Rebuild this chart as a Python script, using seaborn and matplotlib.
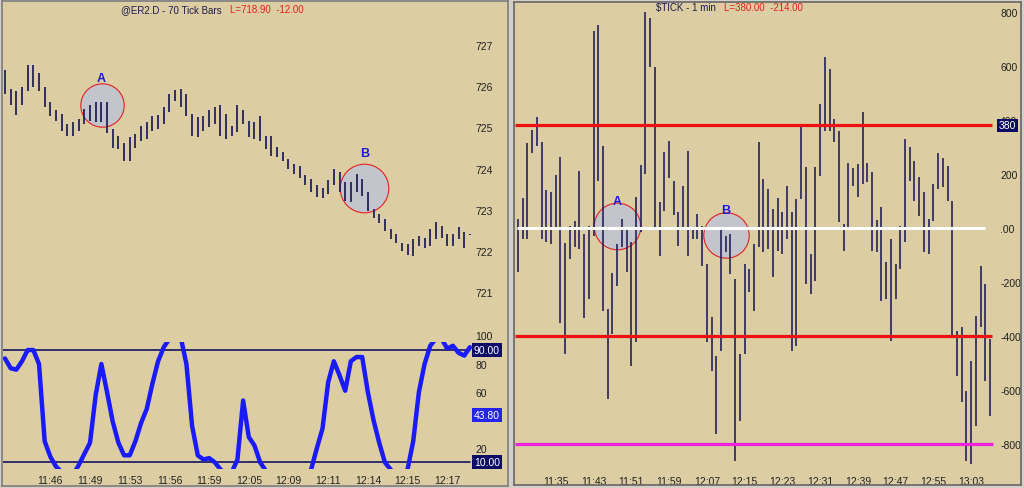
import numpy as np
import pandas as pd
import matplotlib
matplotlib.use("Agg")
import matplotlib.pyplot as plt
import seaborn as sns

# ---- @ER2.D 70 tick bars (high / low) ----
er_high = [726.38, 725.93, 725.89, 725.99, 726.50, 726.50, 726.32, 725.97, 725.61, 725.41,
           725.33, 725.08, 725.12, 725.20, 725.45, 725.53, 725.61, 725.61, 725.61, 724.95,
           724.80, 724.62, 724.76, 724.84, 725.04, 725.12, 725.28, 725.30, 725.49, 725.81,
           725.91, 725.93, 725.81, 725.33, 725.25, 725.28, 725.41, 725.49, 725.53, 725.33,
           725.04, 725.53, 725.41, 725.16, 725.12, 725.28, 724.80, 724.80, 724.52, 724.39,
           724.23, 724.11, 724.07, 723.85, 723.75, 723.59, 723.53, 723.71, 723.99, 723.91,
           723.67, 723.67, 723.87, 723.75, 723.42, 723.02, 722.89, 722.77, 722.53, 722.40,
           722.20, 722.16, 722.28, 722.36, 722.32, 722.53, 722.70, 722.61, 722.40, 722.40,
           722.57, 722.45, 722.42]
er_low = [725.81, 725.53, 725.29, 725.53, 725.89, 725.99, 725.89, 725.49, 725.28, 725.16,
          724.92, 724.80, 724.78, 724.92, 725.08, 725.16, 725.12, 725.12, 724.85, 724.49,
          724.47, 724.19, 724.19, 724.51, 724.68, 724.72, 724.92, 724.95, 725.08, 725.37,
          725.65, 725.49, 725.28, 724.80, 724.76, 724.92, 725.00, 725.08, 724.80, 724.72,
          724.80, 724.88, 725.08, 724.76, 724.72, 724.68, 724.47, 724.31, 724.27, 724.19,
          723.99, 723.87, 723.77, 723.60, 723.42, 723.30, 723.28, 723.38, 723.59, 723.42,
          723.22, 723.18, 723.42, 723.34, 722.98, 722.81, 722.69, 722.49, 722.28, 722.20,
          722.00, 721.91, 721.87, 722.12, 722.08, 722.12, 722.28, 722.32, 722.12, 722.12,
          722.28, 722.08, 722.38]
er_osc = [84, 77, 76, 82, 90, 90, 80, 25, 14, 7,
          3, 0, 1, 8, 16, 24, 58, 80, 60, 39,
          24, 15, 15, 25, 38, 48, 66, 82, 92, 98,
          100, 99, 80, 36, 15, 12, 13, 10, 5, 1,
          3, 12, 54, 28, 22, 10, 4, 0, 0, 0,
          0, 0, 0, 0, 5, 20, 34, 67, 82, 72,
          61, 82, 85, 85, 60, 40, 24, 10, 5, 0,
          0, 5, 25, 60, 80, 93, 98, 98, 91, 93,
          88, 86, 92]
er_time_labels = ["11:46", "11:49", "11:53", "11:56", "11:59", "12:05",
                  "12:09", "12:11", "12:14", "12:15", "12:17"]
er_time_bars = [8, 15, 22, 29, 36, 43, 50, 57, 64, 71, 78]
er_price_ticks = [721, 722, 723, 724, 725, 726, 727]
osc_ticks = [80, 60, 20]
osc_levels = [90, 10]

# ---- $TICK 1 min bars (high / low) ----
tick_start = "11:27"
tick_high = [33, 110, 315, 363, 410, 320, 142, 135, 198, 262,
             -57, 9, 27, 212, -22, 9, 731, 752, 305, -300,
             -167, -59, 33, 2, -53, 114, 235, 799, 777, 595,
             98, 280, 323, 175, 58, 157, 286, 2, 52, 9,
             -133, -331, -473, 2, -28, -22, -189, -467, -133, -152,
             -59, 317, 181, 144, 70, 110, 58, 157, 58, 107,
             379, 225, -96, 225, 459, 632, 589, 404, 360, 15,
             240, 221, 237, 428, 240, 209, 31, 77, -127, -41,
             -133, 9, 330, 299, 249, 188, 132, 33, 163, 278,
             258, 231, 101, -380, -368, -602, -491, -325, -140, -207,
             -411]
tick_low = [-164, -41, -41, 278, 305, -41, -53, -59, -4, -352,
            -467, -115, -72, -78, -335, -263, -28, 175, -306, -633,
            -393, -214, -72, -164, -510, -423, -16, 200, 595, -4,
            -102, 64, 184, 48, -65, -4, -102, -41, -41, -140,
            -423, -528, -763, -454, -90, -170, -862, -714, -467, -238,
            -306, -72, -90, -78, -183, -84, -96, -41, -454, -436,
            107, -207, -244, -195, 194, 360, 360, 317, 21, -84,
            -4, 157, 114, 163, 169, -84, -90, -269, -263, -417,
            -263, -152, -53, 175, 101, 46, -90, -96, 27, 144,
            151, 101, -405, -547, -646, -862, -874, -732, -368, -565,
            -695]
tick_time_labels = ["11:35", "11:43", "11:51", "11:59", "12:07", "12:15",
                    "12:23", "12:31", "12:39", "12:47", "12:55", "13:03"]
tick_yticks = [800, 600, 400, 200, 0, -200, -400, -600, -800]
tick_red_levels = [380, -400]
tick_zero_level = 0
tick_extreme_level = -800

# circled spots: (label, bar, value, radius px, label lift px)
er_marks = [("A", 17.05, 725.53, 21.7, 27), ("B", 63.4, 723.52, 24.3, 35)]
tick_marks = [("A", 21.0, 8, 23.3, 25), ("B", 44.0, -26, 22.7, 25)]

BG = "#dccda2"
BAR = "#22225c"
NAVY = "#0c0c66"

sns.set_theme(style="white")
plt.rcParams["font.family"] = ["Liberation Sans", "DejaVu Sans"]

W, H = 1024, 489
fig = plt.figure(figsize=(W / 100, H / 100), dpi=100, facecolor="#d4d0c8")


def px_axes(x0, y0, x1, y1, **kw):
    return fig.add_axes([x0 / W, 1 - y1 / H, (x1 - x0) / W, (y1 - y0) / H], **kw)


def clean(ax):
    for s in ax.spines.values():
        s.set_visible(False)
    ax.patch.set_alpha(0)


def circles(ax, marks):
    for lab, bx, val, r, lift in marks:
        ax.scatter([bx], [val], s=(2 * r * 0.72) ** 2, facecolor="#c4c4cc",
                   edgecolor="#e42020", linewidths=0.8, zorder=2)
        ax.annotate(lab, (bx, val), xytext=(0, lift * 0.72), textcoords="offset points",
                    ha="center", va="center", color="#1818e6", fontsize=9,
                    fontweight="bold", zorder=5)


def value_box(ax, xfrac, val, text, fc):
    ax.text(xfrac, val, text, transform=ax.get_yaxis_transform(), ha="left",
            va="center", color="white", fontsize=7.5, clip_on=False, zorder=6,
            bbox=dict(boxstyle="square,pad=0.18", fc=fc, ec="none"))


# ---------------- left panel ----------------
bg = px_axes(2, 2, 508, 487, facecolor=BG)
bg.set_xticks([])
bg.set_yticks([])
for s in bg.spines.values():
    s.set_color("#808080")

bars = np.arange(len(er_high))
xl = (-0.35, 88.54)

axp = px_axes(3, 3, 507, 320)
clean(axp)
axp.vlines(bars, er_low, er_high, color=BAR, lw=1.3, zorder=3)
circles(axp, er_marks)
axp.set_xlim(*xl)
axp.set_ylim(720.35, 728.04)
axp.set_xticks([])
axp.set_yticks(er_price_ticks)
axp.yaxis.tick_right()
axp.tick_params(axis="y", length=0, pad=-23, labelsize=7.5, labelcolor="#222222")

axo = px_axes(3, 343, 507, 470)
clean(axo)
osc_df = pd.DataFrame({"bar": bars, "osc": er_osc})
sns.lineplot(data=osc_df, x="bar", y="osc", ax=axo, color="#1a1aff", lw=3.2, zorder=3)
for lv in osc_levels:
    axo.axhline(lv, xmax=0.927, color="#14145e", lw=1.2, zorder=2)
axo.set_xlim(*xl)
axo.set_ylim(5.24, 95.7)
axo.set_xlabel("")
axo.set_ylabel("")
axo.set_yticks(osc_ticks)
axo.yaxis.tick_right()
axo.tick_params(axis="y", length=0, pad=-23, labelsize=7.5, labelcolor="#222222")
axo.set_xticks(er_time_bars, er_time_labels)
axo.tick_params(axis="x", length=0, pad=4.5, labelsize=7.5, labelcolor="#222222")
axo.text(0.9365, 100, "100", transform=axo.get_yaxis_transform(), ha="left",
         va="center", fontsize=7.5, color="#222222", clip_on=False)
value_box(axo, 0.9345, 90, "90.00", NAVY)
value_box(axo, 0.9345, 10, "10.00", NAVY)
value_box(axo, 0.9345, 43.8, "43.80", "#2424ee")

fig.text(121 / W, 1 - 10 / H, "@ER2.D - 70 Tick Bars", fontsize=7, color="#1c1c50",
         ha="left", va="center")
fig.text(230 / W, 1 - 10 / H, "L=718.90  -12.00", fontsize=7, color="#e42020",
         ha="left", va="center")

# ---------------- right panel ----------------
axt = px_axes(514, 3, 1021, 486, facecolor=BG)
for s in axt.spines.values():
    s.set_color("#6a6a6a")
tbars = np.arange(len(tick_high))
axt.vlines(tbars, tick_low, tick_high, color=BAR, lw=1.2, zorder=3)
circles(axt, tick_marks)
last = tbars[-1]
axt.hlines(tick_red_levels, -0.6, last + 0.4, color="#ee1111", lw=2.3, zorder=4)
axt.hlines(tick_zero_level, -0.3, last - 1.1, color="white", lw=2.2, zorder=4)
axt.hlines(tick_extreme_level, -0.6, last + 0.6, color="#ee22dd", lw=2.3, zorder=4)
axt.set_xlim(-0.85, 106.57)
axt.set_ylim(-951.9, 837)


def to_min(t):
    h, m = t.split(":")
    return int(h) * 60 + int(m)


t0 = to_min(tick_start)
axt.set_xticks([to_min(t) - t0 for t in tick_time_labels], tick_time_labels)
axt.tick_params(axis="x", length=0, pad=-6.8, labelsize=7.5, labelcolor="#222222")
axt.set_yticks(tick_yticks, [".00" if v == 0 else str(v) for v in tick_yticks])
axt.yaxis.tick_right()
axt.tick_params(axis="y", length=0, pad=-15, labelsize=7.5, labelcolor="#222222")
value_box(axt, 0.9566, tick_red_levels[0], "380", NAVY)

fig.text(656 / W, 1 - 8 / H, "$TICK - 1 min", fontsize=7, color="#1c1c50",
         ha="left", va="center")
fig.text(724 / W, 1 - 8 / H, "L=380.00  -214.00", fontsize=7, color="#e42020",
         ha="left", va="center")

fig.savefig("out.png", dpi=100, facecolor=fig.get_facecolor())
